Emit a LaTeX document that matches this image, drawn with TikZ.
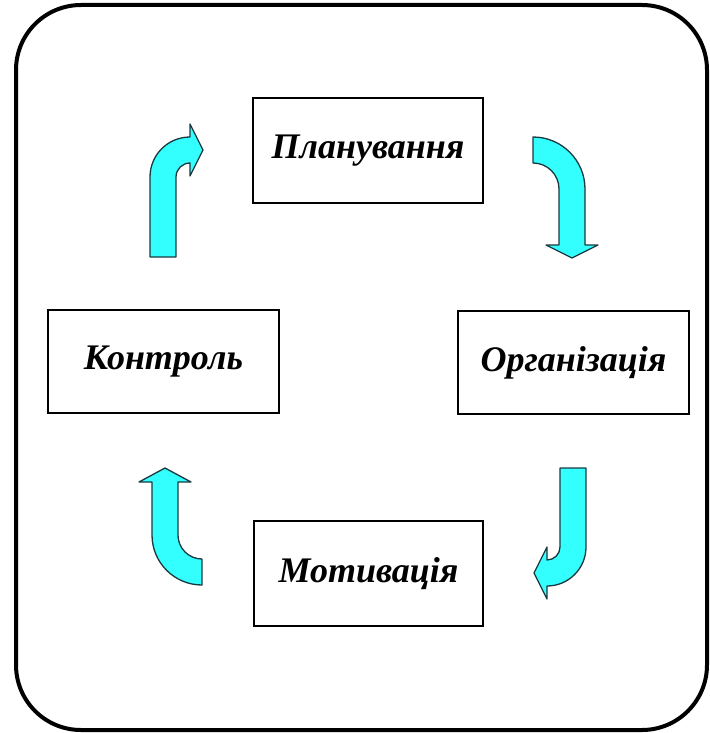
\documentclass[tikz,border=0pt]{standalone}
\usepackage{fontspec}
\setmainfont{Liberation Serif}
\begin{document}
\begin{tikzpicture}[x=1pt,y=-1pt,
  stagebox/.style={draw=black, line width=2pt, fill=white, inner sep=0pt,
    font=\fontsize{36}{40}\selectfont\bfseries\itshape},
  blockarrow/.style={fill=arrowcyan, draw=arrowedge, line width=1.3pt, line join=round}]
\definecolor{arrowcyan}{HTML}{33FFFF}
\definecolor{arrowedge}{HTML}{1A3A40}
\useasboundingbox (0,0) rectangle (709,733);

% outer frame
\draw[line width=4pt, rounded corners=65pt] (16,5) rectangle (707,730);

% the four management functions
\node[stagebox, minimum width=230pt, minimum height=105pt] (plan) at (368,150.5) {Планування};
\node[stagebox, minimum width=231pt, minimum height=103pt] (org)  at (573.5,362.5) {Організація};
\node[stagebox, minimum width=229pt, minimum height=105pt] (mot)  at (368.5,573.5) {Мотивація};
\node[stagebox, minimum width=231pt, minimum height=103pt] (ctrl) at (163.5,361.5) {Контроль};

% Контроль -> Планування: up, then bending right
\draw[blockarrow] (150,257) -- (150,177)
  arc[start angle=180, end angle=270, radius=40] -- (190,124) -- (203,150) -- (190,176) -- (190,163)
  arc[start angle=270, end angle=180, radius=14] -- (176,257) -- cycle;

% Планування -> Організація: right, then bending down
\draw[blockarrow] (533,137)
  arc[start angle=270, end angle=360, radius=52] -- (585,245) -- (598,245) -- (572,258) -- (546,245) -- (559,245) -- (559,189)
  arc[start angle=0, end angle=-90, radius=26] -- cycle;

% Організація -> Мотивація: down, then bending left
\draw[blockarrow] (586,468) -- (586,547)
  arc[start angle=0, end angle=90, radius=39] -- (547,599) -- (534,573) -- (547,547) -- (547,560)
  arc[start angle=90, end angle=0, radius=13] -- (560,468) -- cycle;

% Мотивація -> Контроль: left, then bending up
\draw[blockarrow] (202,585)
  arc[start angle=90, end angle=180, radius=50] -- (152,482) -- (139,482) -- (165,468) -- (191,482) -- (178,482) -- (178,535)
  arc[start angle=180, end angle=90, radius=24] -- cycle;
\end{tikzpicture}
\end{document}
